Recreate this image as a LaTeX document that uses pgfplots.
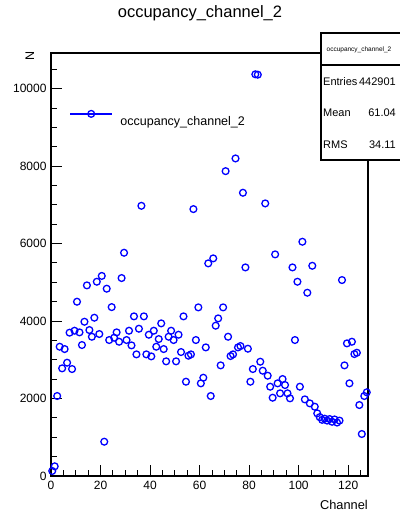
\documentclass[border=0pt]{standalone}
\usepackage{pgfplots}
\pgfplotsset{compat=1.18}
\usepackage{pgfplotstable}
\usepackage{fontspec}
\setmainfont{Liberation Sans}
\pgfplotstableread{
ch val
0.5 130
1.5 250
2.5 2065
3.5 3337
4.5 2779
5.5 3277
6.5 2925
7.5 3700
8.5 2761
9.5 3750
10.5 4499
11.5 3708
12.5 3381
13.5 3982
14.5 4921
15.5 3768
16.5 3595
17.5 4086
18.5 5015
19.5 3665
20.5 5165
21.5 885
22.5 4835
23.5 3510
24.5 4360
25.5 3569
26.5 3708
27.5 3466
28.5 5110
29.5 5763
30.5 3510
31.5 3750
32.5 3372
33.5 4121
34.5 3140
35.5 3802
36.5 6975
37.5 4121
38.5 3140
39.5 3647
40.5 3088
41.5 3750
42.5 3337
43.5 3535
44.5 3940
45.5 3277
46.5 2960
47.5 3595
48.5 3750
49.5 3510
50.5 2960
51.5 3647
52.5 3200
53.5 4121
54.5 2434
55.5 3105
56.5 3140
57.5 6890
58.5 3510
59.5 4353
60.5 2392
61.5 2537
62.5 3320
63.5 5489
64.5 2065
65.5 5618
66.5 3880
67.5 4069
68.5 2856
69.5 4353
70.5 7870
71.5 3595
72.5 3097
73.5 3140
74.5 8198
75.5 3320
76.5 3355
77.5 7312
78.5 5385
79.5 3286
80.5 2434
81.5 2761
82.5 10370
83.5 10360
84.5 2950
85.5 2718
86.5 7037
87.5 2589
88.5 2305
89.5 2021
90.5 5721
91.5 2392
92.5 2134
93.5 2503
94.5 2348
95.5 2134
96.5 2005
97.5 5385
98.5 3510
99.5 5015
100.5 2305
101.5 6047
102.5 1978
103.5 4731
104.5 1875
105.5 5427
106.5 1789
107.5 1617
108.5 1520
109.5 1450
110.5 1480
111.5 1430
112.5 1470
113.5 1400
114.5 1460
115.5 1380
116.5 1430
117.5 5058
118.5 2856
119.5 3424
120.5 2392
121.5 3466
122.5 3148
123.5 3182
124.5 1832
125.5 1084
126.5 2065
127.5 2160
}\occupancy
\begin{document}
\begin{tikzpicture}
\begin{axis}[
  width=317bp, height=423bp, scale only axis,
  xmin=0, xmax=128, ymin=0, ymax=10920,
  xtick={0,20,...,120}, minor xtick={5,10,...,125},
  ytick={0,2000,...,10000}, minor ytick={500,1000,...,10500},
  tick align=inside, xtick pos=bottom, ytick pos=left,
  major tick length=11bp, minor tick length=6bp,
  tick style={black, line width=0.9bp},
  axis line style={line width=1.3bp},
  tick label style={font=\fontsize{12bp}{14bp}\selectfont},
  xticklabel style={yshift=-2bp},
  yticklabel style={xshift=-1bp},
  /pgf/number format/assume math mode=true,
  /pgf/number format/1000 sep={},
  scaled y ticks=false,
  title={occupancy\_channel\_2},
  title style={at={(axis description cs:0.47,1.0709)}, anchor=base, inner sep=0pt, font=\fontsize{16.5bp}{20bp}\selectfont},
  xlabel={Channel},
  xlabel style={at={(axis description cs:1,-0.0686)}, anchor=east, inner sep=0pt, font=\fontsize{12.8bp}{15bp}\selectfont},
  ylabel={N},
  ylabel style={at={(axis description cs:-0.067,0.994)}, anchor=center, inner sep=0pt, font=\fontsize{12.5bp}{15bp}\selectfont},
  legend style={at={(axis description cs:0.0558,0.8433)}, anchor=west, draw=none, fill=none, inner sep=0pt, column sep=5bp, font=\fontsize{12.5bp}{15bp}\selectfont},
  legend cell align=left,
]
\addplot[only marks, blue, mark=o, mark size=3.4bp, mark options={line width=1.3bp},
  legend image code/.code={
    \draw[blue, line width=2.6bp] (0bp,7.6bp) -- (42bp,7.6bp);
    \draw[blue, line width=1.3bp] (21bp,7.6bp) circle (3.4bp);
  }] table[x=ch, y=val] {\occupancy};
\addlegendentry{occupancy\_channel\_2}
\end{axis}
\begin{scope}[x=1bp,y=1bp]
\useasboundingbox (-51,-35) rectangle (348,476);
\draw[line width=1.1bp, fill=white] (270,316) rectangle (354,443);
\draw[line width=1.1bp] (270,411) -- (354,411);
\node[font=\fontsize{6.5bp}{8bp}\selectfont, anchor=center, inner sep=0pt] at (308,426) {occupancy\_channel\_2};
\begin{scope}[every node/.style={inner sep=0pt, font=\fontsize{11bp}{13bp}\selectfont}]
\node[anchor=west] at (272,394) {Entries};
\node[anchor=east] at (345,394) {442901};
\node[anchor=west] at (272,363) {Mean};
\node[anchor=east] at (345,363) {61.04};
\node[anchor=west] at (272,331) {RMS};
\node[anchor=east] at (345,331) {34.11};
\end{scope}
\end{scope}
\end{tikzpicture}
\end{document}
